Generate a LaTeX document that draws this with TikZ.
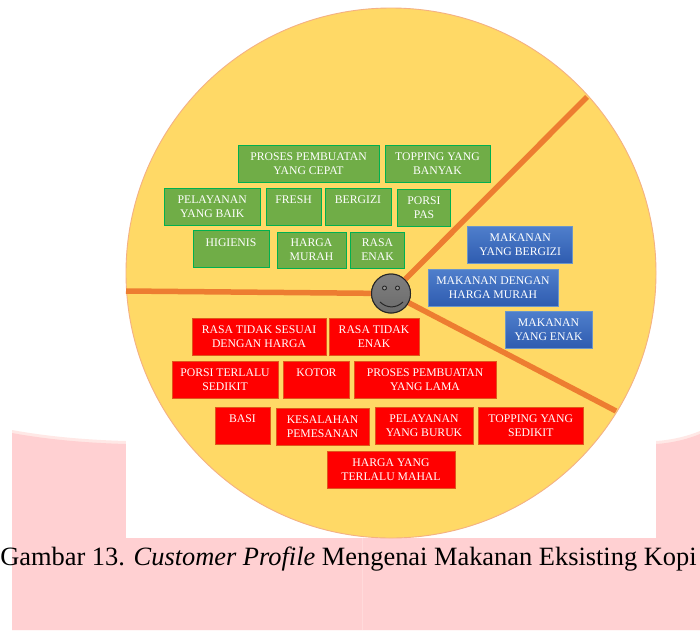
\documentclass[tikz,border=0pt]{standalone}
\usepackage{fontspec}
\setmainfont{Liberation Serif}
\definecolor{disc}{HTML}{FFD966}
\definecolor{disceg}{HTML}{F4B183}
\definecolor{spoke}{HTML}{ED7D31}
\definecolor{greenf}{HTML}{70AD47}
\definecolor{greene}{HTML}{00B050}
\definecolor{bluet}{HTML}{4F7FCC}
\definecolor{blueb}{HTML}{2F5CB0}
\definecolor{bluee}{HTML}{6C96C8}
\definecolor{rede}{HTML}{E0561C}
\definecolor{pinkb}{HTML}{FFD0D2}
\definecolor{pinkt}{HTML}{FFE8E6}
\tikzset{
  lbl/.style={font=\fontsize{11.7}{14}\selectfont,text=white,align=center,inner sep=0pt,outer sep=0pt},
  gbox/.style={lbl,draw=greene,fill=greenf,line width=.8pt},
  bbox/.style={lbl,draw=bluee,top color=bluet,bottom color=blueb,line width=.8pt},
  rbox/.style={lbl,draw=rede,fill=red,line width=.8pt},
  spokeln/.style={draw=spoke,line width=5.5pt},
  face/.style={circle,draw=black!85,line width=1pt,inner sep=0pt,minimum size=39pt,top color=black!50,bottom color=black!58},
  feat/.style={draw=black!85,line width=1pt},
  captxt/.style={font=\fontsize{26.4}{30}\selectfont,text=black,inner sep=0pt,outer sep=0pt,anchor=base west}
}
\newcommand{\bx}[7]{%
  \pgfmathsetmacro{\cxa}{(#2+#4)/2}\pgfmathsetmacro{\cya}{(#3+#5)/2}%
  \pgfmathsetmacro{\wa}{#4-#2}\pgfmathsetmacro{\ha}{#5-#3}%
  \node[#6,minimum width=\wa pt,minimum height=\ha pt] (#1) at (\cxa,\cya) {#7};}
\begin{document}
\begin{tikzpicture}[x=1pt,y=-1pt]
\useasboundingbox (0,0) rectangle (700,630);
\fill[white] (0,0) rectangle (700,630);
% watermark
\fill[pinkt] (12,430) .. controls (50,437) and (90,440) .. (126,441) -- (656,441)
  .. controls (672,440) and (688,436) .. (700,431) -- (700,630) -- (12,630) -- cycle;
\fill[pinkb] (12,433) .. controls (50,440) and (90,443) .. (126,444) -- (656,444)
  .. controls (672,443) and (688,439) .. (700,434) -- (700,630) -- (12,630) -- cycle;
\fill[white] (126,420) rectangle (656,538);
\draw[white!20!pinkb,line width=1pt] (362,538) -- (362,630);
% disc
\begin{scope}
\clip (100,0) rectangle (680,538);
\fill[disc,draw=disceg,line width=.9pt] (391,273) circle (265);
\end{scope}
% centre and spokes
\node[face] (hub) at (391,293.5) {};
\coordinate (wl) at (126,291);
\coordinate (wu) at (587,97);
\coordinate (wd) at (616,411);
\draw[spokeln] (wl) -- (hub);
\draw[spokeln] (wu) -- (hub);
\draw[spokeln] (wd) -- (hub);
\node[face] (hubtop) at (hub) {};
\filldraw[fill=black!40,draw=black!85,line width=.9pt] (384.5,288) circle (2);
\filldraw[fill=black!40,draw=black!85,line width=.9pt] (397.5,288) circle (2);
\draw[feat] (380,302) .. controls (387,308.5) and (396,308.5) .. (403,302);
% green
\bx{g1}{238}{145}{379}{182}{gbox}{PROSES PEMBUATAN\\YANG CEPAT}
\bx{g2}{385}{145}{490}{182}{gbox}{TOPPING YANG\\BANYAK}
\bx{g3}{164.5}{188}{260}{225}{gbox}{PELAYANAN\\YANG BAIK}
\bx{g4}{266}{188}{321}{225}{gbox}{FRESH\\\ }
\bx{g5}{325}{188}{391}{225}{gbox}{BERGIZI\\\ }
\bx{g6}{397.5}{189}{450.5}{226}{gbox}{PORSI\\PAS}
\bx{g7}{193}{230.5}{269}{267}{gbox}{\raisebox{-1pt}{HIGIENIS}\\\ }
\bx{g8}{277}{232}{346}{268}{gbox}{HARGA\\MURAH}
\bx{g9}{350.5}{232}{404.5}{268}{gbox}{RASA\\ENAK}
% blue
\bx{b1}{467.7}{226}{572.7}{263}{bbox}{MAKANAN\\YANG BERGIZI}
\bx{b2}{428}{269}{558}{306}{bbox}{MAKANAN DENGAN\\HARGA MURAH}
\bx{b3}{505}{311}{592}{348}{bbox}{MAKANAN\\YANG ENAK}
% red
\bx{r1}{192}{318}{326}{355}{rbox}{RASA TIDAK SESUAI\\DENGAN HARGA}
\bx{r2}{329}{318}{419}{355}{rbox}{RASA TIDAK\\ENAK}
\bx{r3}{172}{361}{278}{398.5}{rbox}{PORSI TERLALU\\SEDIKIT}
\bx{r4}{283.5}{361}{349.5}{398.5}{rbox}{KOTOR\\\ }
\bx{r5}{354}{361}{496}{398.5}{rbox}{PROSES PEMBUATAN\\YANG LAMA}
\bx{r6}{215}{407}{270}{444}{rbox}{BASI\\\ }
\bx{r7}{276}{408}{369}{445}{rbox}{KESALAHAN\\PEMESANAN}
\bx{r8}{375}{407}{473}{444}{rbox}{PELAYANAN\\YANG BURUK}
\bx{r9}{478}{407}{583.5}{444}{rbox}{TOPPING YANG\\SEDIKIT}
\bx{r10}{327}{451}{455}{488}{rbox}{HARGA YANG\\TERLALU MAHAL}
% caption
\node[captxt] (cap) at (0.3,565) {Gambar 13. \textit{Customer Profile} Mengenai Makanan Eksisting Kopi};
\end{tikzpicture}
\end{document}
